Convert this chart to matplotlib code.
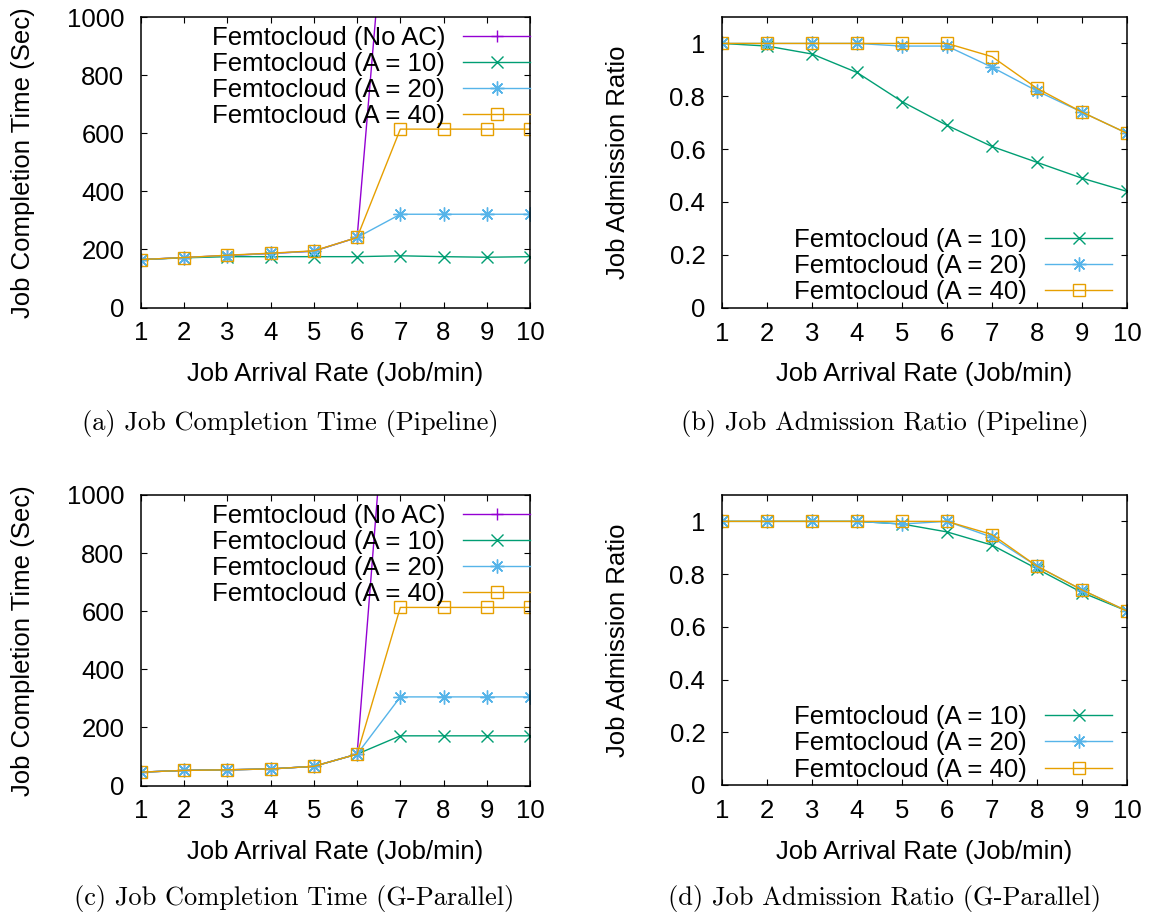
import numpy as np
import matplotlib
matplotlib.use("Agg")
import matplotlib.pyplot as plt

plt.rcParams['font.family'] = ['Liberation Sans', 'DejaVu Sans']

# data
rate = [1, 2, 3, 4, 5, 6, 7, 8, 9, 10]

# (a) job completion time, pipeline
jct_pipe_noac = [165, 172, 179, 186, 194, 241, 2010, 2700, 3300, 3900]
jct_pipe_a10 = [165, 171, 175, 175, 175, 175, 178, 175, 173, 175]
jct_pipe_a20 = [165, 172, 179, 186, 194, 241, 321, 321, 321, 321]
jct_pipe_a40 = [165, 172, 180, 187, 195, 241, 614, 614, 614, 614]

# (b) job admission ratio, pipeline
jar_pipe_a10 = [1.0, 0.99, 0.96, 0.89, 0.78, 0.69, 0.61, 0.55, 0.49, 0.44]
jar_pipe_a20 = [1.0, 1.0, 1.0, 1.0, 0.99, 0.99, 0.91, 0.82, 0.74, 0.66]
jar_pipe_a40 = [1.0, 1.0, 1.0, 1.0, 1.0, 1.0, 0.95, 0.83, 0.74, 0.66]

# (c) job completion time, G-parallel
jct_gpar_noac = [46, 52, 54, 57, 66, 108, 2000, 2700, 3300, 3900]
jct_gpar_a10 = [46, 52, 54, 57, 66, 108, 171, 171, 171, 171]
jct_gpar_a20 = [46, 52, 54, 57, 66, 108, 305, 305, 305, 305]
jct_gpar_a40 = [46, 52, 54, 57, 66, 108, 613, 613, 613, 613]

# (d) job admission ratio, G-parallel
jar_gpar_a10 = [1.0, 1.0, 1.0, 1.0, 0.99, 0.96, 0.91, 0.82, 0.73, 0.66]
jar_gpar_a20 = [1.0, 1.0, 1.0, 1.0, 0.99, 1.0, 0.94, 0.83, 0.74, 0.66]
jar_gpar_a40 = [1.0, 1.0, 1.0, 1.0, 1.0, 1.0, 0.95, 0.83, 0.74, 0.66]

labels = ['Femtocloud (No AC)', 'Femtocloud (A = 10)', 'Femtocloud (A = 20)', 'Femtocloud (A = 40)']
colors = ['#9400d3', '#009e73', '#56b4e9', '#e69f00']
markers = ['+', 'x', (8, 2, 0), 's']
msizes = [8, 8, 10, 8]

captions = ['(a) Job Completion Time (Pipeline)', '(b) Job Admission Ratio (Pipeline)',
            '(c) Job Completion Time (G-Parallel)', '(d) Job Admission Ratio (G-Parallel)']

FS = 18.5
W, H = 1155, 915
fig = plt.figure(figsize=(W / 100, H / 100), dpi=100)


def px_axes(l, t, r, b):
    return fig.add_axes([l / W, 1 - b / H, (r - l) / W, (b - t) / H])


def style(ax):
    ax.set_xlim(1, 10)
    ax.set_xticks(rate)
    ax.tick_params(direction='in', top=True, right=True, length=4, width=0.8,
                   labelsize=FS)
    ax.tick_params(axis='x', pad=10)
    ax.tick_params(axis='y', pad=12)
    for s in ax.spines.values():
        s.set_linewidth(1.1)
    ax.set_xlabel('Job Arrival Rate (Job/min)', fontsize=FS, labelpad=12)


def draw(ax, series, cols, marks, sizes, labs):
    for y, c, m, ms, lab in zip(series, cols, marks, sizes, labs):
        ax.plot(rate, y, color=c, marker=m, ms=ms, mew=1.0, mfc='none', lw=1.0,
                label=lab, clip_on=True)


ax_a = px_axes(141, 17, 530, 307.5)
ax_b = px_axes(722, 17, 1127, 307.7)
ax_c = px_axes(141, 495, 530, 785.5)
ax_d = px_axes(722, 495, 1127, 785)

for ax, ser in [(ax_a, [jct_pipe_noac, jct_pipe_a10, jct_pipe_a20, jct_pipe_a40]),
                (ax_c, [jct_gpar_noac, jct_gpar_a10, jct_gpar_a20, jct_gpar_a40])]:
    draw(ax, ser, colors, markers, msizes, labels)
    style(ax)
    ax.set_ylim(0, 1000)
    ax.set_yticks([0, 200, 400, 600, 800, 1000])
    ax.set_ylabel('Job Completion Time (Sec)', fontsize=FS)
    ax.yaxis.set_label_coords((35 - 141) / 389, 0.5)
    leg = ax.legend(loc='upper right', bbox_to_anchor=(1.0, 0.97), frameon=False,
                    fontsize=FS, markerfirst=False, handlelength=2.6,
                    handletextpad=0.7, labelspacing=0.08, borderpad=0,
                    borderaxespad=0)

for ax, ser in [(ax_b, [jar_pipe_a10, jar_pipe_a20, jar_pipe_a40]),
                (ax_d, [jar_gpar_a10, jar_gpar_a20, jar_gpar_a40])]:
    draw(ax, ser, colors[1:], markers[1:], msizes[1:], labels[1:])
    style(ax)
    ax.set_ylim(0, 1.1)
    ax.set_yticks([0, 0.2, 0.4, 0.6, 0.8, 1.0])
    ax.set_yticklabels(['0', '0.2', '0.4', '0.6', '0.8', '1'])
    ax.set_ylabel('Job Admission Ratio', fontsize=FS)
    ax.yaxis.set_label_coords((630 - 722) / 405, 0.5)
    leg = ax.legend(loc='lower right', bbox_to_anchor=(0.963, 0.012), frameon=False,
                    fontsize=FS, markerfirst=False, handlelength=2.6,
                    handletextpad=0.7, labelspacing=0.08, borderpad=0,
                    borderaxespad=0)

cap_pos = [(290, 424), (885, 424), (294, 898), (885, 898)]
for txt, (cx, cy) in zip(captions, cap_pos):
    fig.text(cx / W, 1 - cy / H, txt, ha='center', va='center', fontsize=19,
             family=['cmr10', 'DejaVu Serif'])

fig.savefig('out.png', dpi=100)
